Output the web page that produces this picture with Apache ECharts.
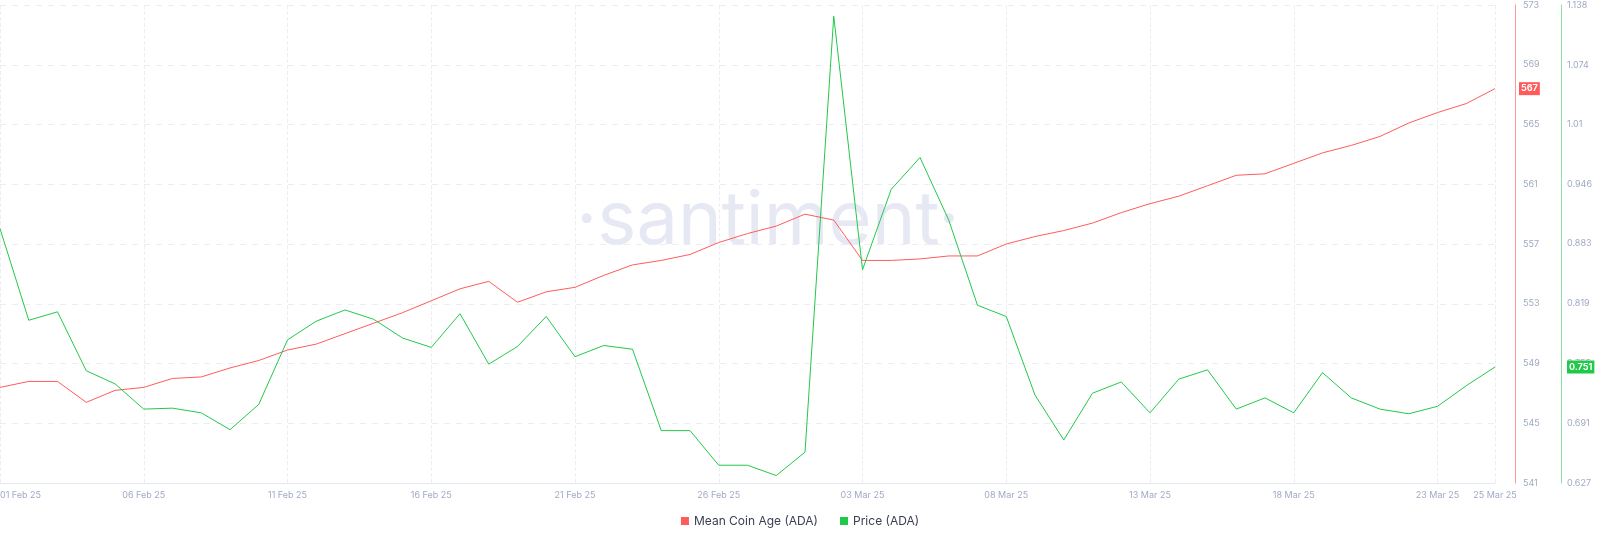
<!DOCTYPE html>
<html>
<head>
<meta charset="utf-8">
<title>Mean Coin Age (ADA)</title>
<script src="https://cdn.jsdelivr.net/npm/echarts@6/dist/echarts.min.js"></script>
<style>
  html, body { margin: 0; padding: 0; background: #fff; }
  #main { width: 1600px; height: 541px; }
</style>
</head>
<body>
<div id="main"></div>
<script>
// dates 01 Feb 25 .. 25 Mar 25
var dates = [];
for (var i = 1; i <= 28; i++) dates.push((i < 10 ? '0' + i : i) + ' Feb 25');
for (var j = 1; j <= 25; j++) dates.push((j < 10 ? '0' + j : j) + ' Mar 25');

var meanCoinAge = [547.4, 547.8, 547.8, 546.4, 547.2, 547.4, 548.0, 548.1, 548.7, 549.2,
  549.9, 550.3, 551.0, 551.7, 552.4, 553.2, 554.0, 554.5, 553.1, 553.8,
  554.1, 554.9, 555.6, 555.9, 556.3, 557.1, 557.7, 558.2, 559.0, 558.6,
  555.9, 555.9, 556.0, 556.2, 556.2, 557.0, 557.5, 557.9, 558.4, 559.1,
  559.7, 560.2, 560.9, 561.6, 561.7, 562.4, 563.1, 563.6, 564.2, 565.1,
  565.8, 566.4, 567.4];

var price = [0.899, 0.801, 0.810, 0.747, 0.733, 0.706, 0.707, 0.702, 0.684, 0.711,
  0.780, 0.800, 0.812, 0.802, 0.782, 0.772, 0.808, 0.754, 0.773, 0.805,
  0.762, 0.774, 0.770, 0.683, 0.683, 0.646, 0.646, 0.635, 0.660, 1.126,
  0.855, 0.941, 0.975, 0.908, 0.817, 0.805, 0.721, 0.673, 0.723, 0.735,
  0.702, 0.738, 0.748, 0.706, 0.718, 0.702, 0.745, 0.718, 0.706, 0.701,
  0.709, 0.731, 0.751];

var priceTicks = [0.627, 0.691, 0.755, 0.819, 0.883, 0.946, 1.01, 1.074, 1.138];

var showTick = function (idx) { return idx % 5 === 0 || idx === dates.length - 1; };

var myChart = echarts.init(document.getElementById('main'));
var option = {
  animation: false,
  textStyle: { fontFamily: 'Inter, sans-serif' },
  grid: { left: 0, right: 105, top: 5, bottom: 58, containLabel: false, outerBoundsMode: 'none' },
  graphic: [{
    type: 'text', left: 576, top: 185,
    style: { text: '·santiment·', fontSize: 74, fill: 'rgba(200,204,228,0.45)', fontFamily: 'Inter, sans-serif' }
  }],
  legend: {
    bottom: 9, left: 'center', icon: 'rect', itemWidth: 8, itemHeight: 8, itemGap: 22,
    textStyle: { color: '#3a3f4f', fontSize: 12 },
    data: ['Mean Coin Age (ADA)', 'Price (ADA)']
  },
  xAxis: {
    type: 'category', boundaryGap: false, data: dates,
    axisLine: { lineStyle: { color: '#e6e8f0' } },
    axisTick: { show: false },
    axisLabel: { interval: function (i) { return showTick(i); }, color: '#9faac4', fontSize: 9, margin: 8,
      alignMinLabel: 'left' },
    splitLine: { show: true, interval: function (i) { return showTick(i); }, lineStyle: { color: '#eceef4', type: 'dashed' } }
  },
  yAxis: [{
    type: 'value', position: 'right', offset: 20, min: 541, max: 573, interval: 4,
    axisLine: { show: true, lineStyle: { color: '#ff9a9a' } },
    axisTick: { show: false },
    axisLabel: { color: '#9faac4', fontSize: 9, margin: 8 },
    splitLine: { lineStyle: { color: '#eceef4', type: [6, 6] } }
  }, {
    type: 'value', position: 'right', offset: 66, min: 0.627, max: 1.138,
    axisLine: { show: true, lineStyle: { color: '#8ee09a' } },
    axisTick: { show: false },
    axisLabel: { color: '#9faac4', fontSize: 9, margin: 6, customValues: priceTicks,
      formatter: function (v) { return String(+v.toFixed(3)); } },
    splitLine: { show: false }
  }],
  series: [{
    name: 'Mean Coin Age (ADA)', type: 'line', yAxisIndex: 0, data: meanCoinAge,
    symbol: 'none', itemStyle: { color: '#ff5b5b' }, lineStyle: { width: 1, color: '#ff5b5b' },
    endLabel: { show: true, offset: [16, 0], formatter: '567', color: '#fff', fontSize: 9,
      fontWeight: 'bold', backgroundColor: '#ff5b5b', padding: [2, 2] }
  }, {
    name: 'Price (ADA)', type: 'line', yAxisIndex: 1, data: price,
    symbol: 'none', itemStyle: { color: '#21c94a' }, lineStyle: { width: 1, color: '#21c94a' },
    endLabel: { show: true, offset: [64, 0], formatter: '0.751', color: '#fff', fontSize: 9,
      fontWeight: 'bold', backgroundColor: '#21c94a', padding: [2, 2] }
  }]
};
myChart.setOption(option);
</script>
</body>
</html>
